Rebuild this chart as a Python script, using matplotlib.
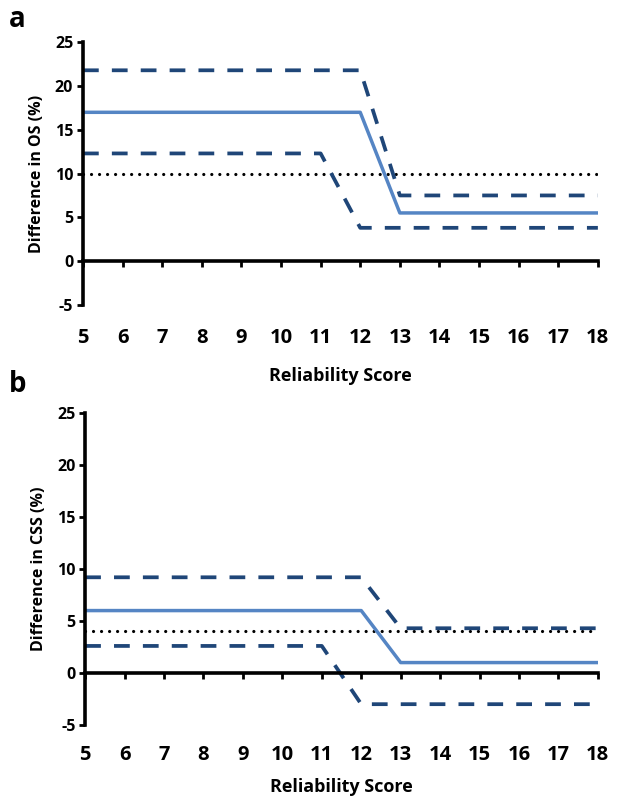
import numpy as np, matplotlib
matplotlib.use('Agg'); import matplotlib.pyplot as plt

plt.rcParams.update({'font.family': ['Open Sans', 'DejaVu Sans'], 'font.weight': 'bold',
                     'axes.unicode_minus': False})

# reliability score break points
x_mid = [5, 12, 13, 18]
x_low = [5, 11, 12, 18]
x_ref = [5, 18]

# panel a: overall survival
os_mid = [17.0, 17.0, 5.5, 5.5]
os_up = [21.8, 21.8, 7.5, 7.5]
os_lo = [12.3, 12.3, 3.8, 3.8]
os_ref = [10, 10]

# panel b: cancer-specific survival
css_mid = [6.0, 6.0, 1.0, 1.0]
css_up = [9.2, 9.2, 4.3, 4.3]
css_lo = [2.6, 2.6, -3.0, -3.0]
css_ref = [4, 4]

xticks = list(range(5, 19))
yticks = list(range(-5, 26, 5))

C_MID = '#5585c4'
C_CI = '#1f4678'

fig = plt.figure(figsize=(6.17, 7.98), dpi=100)
axa = fig.add_axes([0.1345, 0.618, 0.8345, 0.329])
axb = fig.add_axes([0.138, 0.0915, 0.831, 0.391])

def panel(ax, mid, up, lo, ref, ylab, tpad, lpad):
    ax.plot(x_ref, ref, color='black', lw=2.3, ls=(0, (0.01, 2.5)), dash_capstyle='round')
    ax.plot(x_mid, up, color=C_CI, lw=2.7, ls=(0, (4.2, 3.5)))
    ax.plot(x_low, lo, color=C_CI, lw=2.7, ls=(0, (4.2, 3.5)))
    ax.plot(x_mid, mid, color=C_MID, lw=2.5)
    ax.set_xlim(5, 18); ax.set_ylim(-5, 25)
    for s in ['top', 'right']:
        ax.spines[s].set_visible(False)
    ax.spines['bottom'].set_position(('data', 0))
    ax.spines['bottom'].set_linewidth(2.6)
    ax.spines['left'].set_linewidth(2.6)
    ax.set_xticks(xticks); ax.set_yticks(yticks)
    ax.tick_params(axis='x', direction='out', length=4, width=2, labelsize=14.5, pad=tpad)
    ax.tick_params(axis='y', direction='out', length=4, width=2, labelsize=11.5, pad=3)
    ax.set_ylabel(ylab, fontsize=11.5, fontweight='bold', labelpad=7)
    ax.set_xlabel('Reliability Score', fontsize=13, fontweight='bold', labelpad=lpad)

panel(axa, os_mid, os_up, os_lo, os_ref, 'Difference in OS (%)', 44, 14)
panel(axb, css_mid, css_up, css_lo, css_ref, 'Difference in CSS (%)', 48, 9)

fig.text(0.015, 0.975, 'a', fontsize=20, fontweight='bold', va='center')
fig.text(0.015, 0.518, 'b', fontsize=20, fontweight='bold', va='center')

fig.savefig('out.png', dpi=100)
